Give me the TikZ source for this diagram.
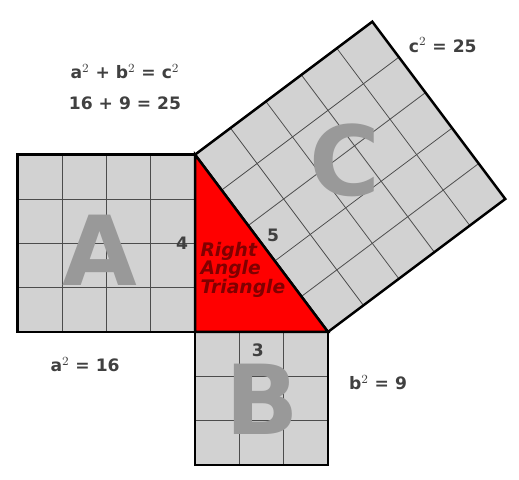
\documentclass[tikz,border=0pt]{standalone}
\usepackage{fontspec}
\setmainfont{DejaVu Sans}
\usetikzlibrary{calc}
\begin{document}
\begin{tikzpicture}[
  grid line/.style={draw=black!70, line width=0.5pt},
  lbl/.style={font=\bfseries\fontsize{11}{13}\selectfont, text=black!75},
  big/.style={font=\bfseries\fontsize{62}{62}\selectfont, text=gray!80, draw=none}
]
\useasboundingbox (-4.40,-3.34) rectangle (7.31,7.49);

% Draw square A
\fill[gray!35] (-4,0) rectangle (0,4);
\draw[grid line] (-4,0) grid (0,4);
\draw[line width=1.6pt] (-4,0) rectangle (0,4);

% Draw square B
\fill[gray!35] (0,-3) rectangle (3,0);
\draw[grid line] (0,-3) grid (3,0);
\draw[line width=1.6pt] (0,-3) rectangle (3,0);

% Draw square C on the hypotenuse
\fill[gray!35] (0,4) -- (3,0) -- (7,3) -- (4,7) -- cycle;
\foreach \i in {1,...,4} {
  \draw[grid line] ($(0,4)+\i*(0.6,-0.8)$) -- ++(4,3);
  \draw[grid line] ($(0,4)+\i*(0.8,0.6)$) -- ++(3,-4);
}
\draw[line width=1.6pt] (0,4) -- (3,0) -- (7,3) -- (4,7) -- cycle;

% Draw the triangle
\fill[red] (0,0) -- (0,4) -- (3,0) -- cycle;
\draw[line width=1.6pt] (0,0) -- (0,4) -- (3,0) -- cycle;
\node[font=\bfseries\itshape\fontsize{12}{12}\selectfont, text=red!50!black, align=left] (tri) at (1.08,1.40) {Right\\Angle\\Triangle};

% Letters
\node[big] (A) at (-2.14,1.85) {A};
\node[big] (B) at (1.51,-1.53) {B};
\node[big] (C) at (3.38,3.88) {C};

% Side lengths
\node[lbl] (s4) at (-0.29,2.0) {4};
\node[lbl] (s5) at (1.76,2.17) {5};
\node[lbl] (s3) at (1.42,-0.41) {3};

% Equations
\node[lbl] (eq1) at (-1.58,5.87) {a$^2$ + b$^2$ = c$^2$};
\node[lbl] (eq2) at (-1.58,5.17) {16 + 9 = 25};
\node[lbl] (cc) at (5.59,6.47) {c$^2$ = 25};
\node[lbl] (aa) at (-2.48,-0.74) {a$^2$ = 16};
\node[lbl] (bb) at (4.13,-1.15) {b$^2$ = 9};
\end{tikzpicture}
\end{document}
